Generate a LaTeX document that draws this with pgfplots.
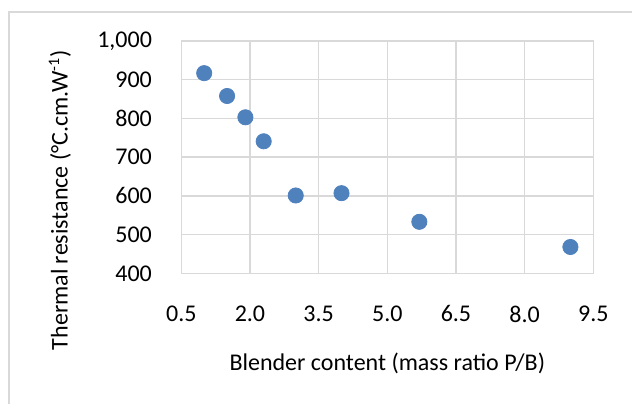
\documentclass[border=0pt]{standalone}
\usepackage{fontspec}
\setmainfont{Carlito}
\usepackage{pgfplots}
\pgfplotsset{compat=1.18}
\definecolor{gridgray}{HTML}{D9D9D9}
\definecolor{dotblue}{HTML}{4F81BD}
\begin{document}
\begin{tikzpicture}
\useasboundingbox (0,0) rectangle (316pt,201.5pt);
\draw[gridgray, line width=0.6pt] (4.5pt,-1pt) -- (4.5pt,195.5pt) -- (317pt,195.5pt);
\begin{axis}[
  at={(90.65pt,64.85pt)}, anchor=south west,
  scale only axis, width=206pt, height=116.15pt,
  xmin=0.5, xmax=9.5, ymin=400, ymax=1000,
  xtick={0.5,2.0,3.5,5.0,6.5,8.0,9.5},
  ytick={400,500,600,700,800,900,1000},
  grid=major, major grid style={gridgray, line width=0.75pt},
  axis line style={gridgray, line width=0.75pt},
  major tick length=0pt,
  font=\fontsize{12}{14}\selectfont,
  /pgf/number format/assume math mode=true,
  /pgf/number format/1000 sep={,},
  xticklabel style={/pgf/number format/.cd, fixed, fixed zerofill, precision=1, /tikz/.cd, anchor=north, inner sep=0pt, yshift=-16pt},
  yticklabel style={anchor=east, inner sep=0pt, xshift=-14.5pt},
  xlabel={Blender content (mass ratio P/B)},
  ylabel={Thermal resistance (°C.cm.W\textsuperscript{-1})},
  xlabel style={at={(axis description cs:0.5,-0.3866)}, anchor=center},
  ylabel style={at={(axis description cs:-0.2947,0.315)}, anchor=center},
]
\addplot[only marks, mark=*, mark size=3.8pt, mark options={fill=dotblue, draw=dotblue}] coordinates {
  (1.0,917) (1.5,858) (1.9,803) (2.3,741) (3.0,601) (4.0,607) (5.7,533) (9.0,468)
};
\end{axis}
\end{tikzpicture}
\end{document}
